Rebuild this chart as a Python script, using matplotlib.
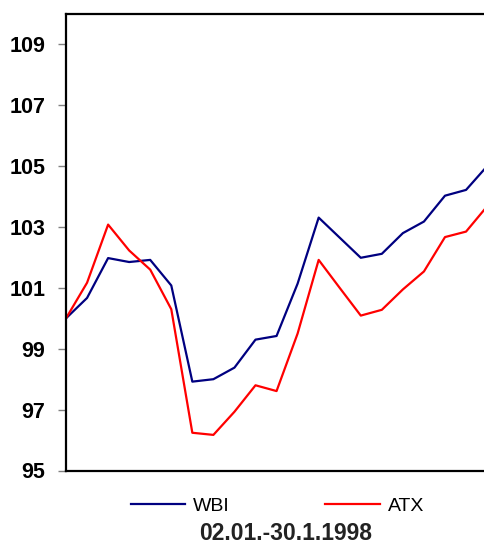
import numpy as np
import matplotlib
matplotlib.use("Agg")
import matplotlib.pyplot as plt

tage = list(range(21))
wbi = [100.0, 100.67, 101.98, 101.85, 101.92, 101.08, 97.92, 98.0, 98.38, 99.3,
       99.42, 101.14, 103.31, 102.65, 101.99, 102.12, 102.8, 103.18, 104.03, 104.22, 105.0]
atx = [100.0, 101.17, 103.08, 102.23, 101.6, 100.3, 96.24, 96.17, 96.93, 97.8,
       97.61, 99.5, 101.92, 101.0, 100.09, 100.28, 100.95, 101.54, 102.67, 102.85, 103.68]
yticks = [95, 97, 99, 101, 103, 105, 107, 109]
titel = "02.01.-30.1.1998"

plt.rcParams['font.family'] = ['Liberation Sans', 'DejaVu Sans']

fig = plt.figure(figsize=(4.85, 5.44), dpi=100)
ax = fig.add_axes([66/485, 1-470.5/544, 1-66/485, (470.5-14)/544])

ax.plot(tage, wbi, color='#000080', lw=1.6, label='WBI')
ax.plot(tage, atx, color='#FF0000', lw=1.6, label='ATX')

ax.set_xlim(0, 19.9)
ax.set_ylim(95, 110)
ax.set_yticks(yticks)
ax.set_xticks([])
ax.tick_params(axis='y', length=6, width=1, color='#808080', pad=9, labelsize=15.5)
for t in ax.get_yticklabels():
    t.set_fontweight('bold')

ax.spines['right'].set_visible(False)
for s in ['left', 'top', 'bottom']:
    ax.spines[s].set_linewidth(1.6)
    ax.spines[s].set_color('black')

# Legende unten
fig.legend(loc='center left', bbox_to_anchor=(131/485, 1-506/544), ncol=2,
           frameon=False, fontsize=14, handlelength=2.8, handletextpad=0.4,
           columnspacing=4.9, borderpad=0, borderaxespad=0)

fig.text(286/485, 1-533/544, titel, ha='center', va='center',
         fontsize=16.5, fontweight='bold', color='#222222')

fig.savefig('out.png', dpi=100)
